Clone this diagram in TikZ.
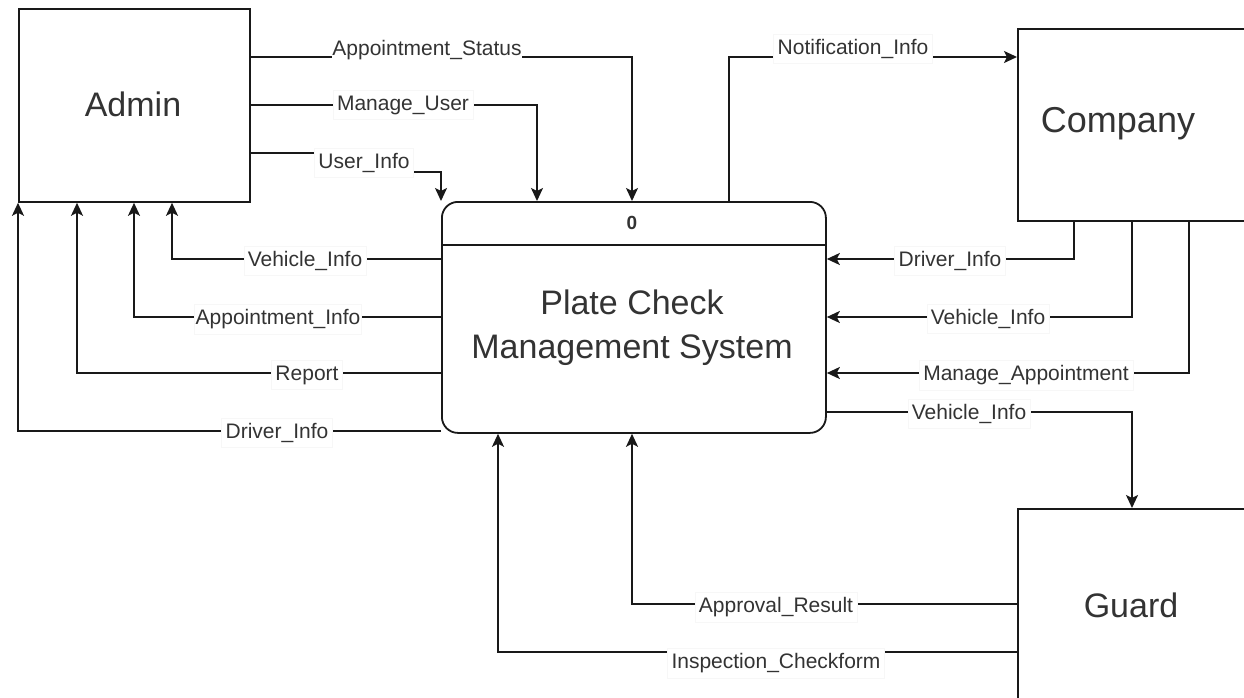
\documentclass[tikz,border=0pt]{standalone}
\usepackage{fontspec}
\setmainfont{Liberation Sans}
\usetikzlibrary{arrows.meta}
\begin{document}
\begin{tikzpicture}[x=1pt,y=-1pt,
  line width=1.8pt,
  flow/.style={draw=black!90, -{Stealth[length=13pt,width=12pt,inset=3pt]}},
  plain/.style={draw=black!90},
  entitybox/.style={draw=black!90, rectangle, inner sep=0pt},
  entitytext/.style={text=black!80, font=\fontsize{34}{40}\selectfont},
  lbl/.style={fill=white, draw=black!3, line width=0.5pt, text=black!80,
    font=\fontsize{21}{24}\selectfont, inner xsep=4pt, inner ysep=5pt},
]
\useasboundingbox (0,0) rectangle (1244,698);
\clip (0,0) rectangle (1244,698);

% external entities
\node[entitybox, minimum width=231pt, minimum height=193pt, anchor=north west] (admin) at (18,8) {};
\node[entitytext] (admintxt) at (133,104) {Admin};
\node[entitybox, minimum width=280pt, minimum height=192pt, anchor=north west] (company) at (1017,28) {};
\node[entitytext, font=\fontsize{36}{40}\selectfont] (companytxt) at (1118,124) {Company};
\node[entitybox, minimum width=280pt, minimum height=240pt, anchor=north west] (guard) at (1017,508) {};
\node[entitytext] (guardtxt) at (1131,605) {Guard};

% process
\node[draw=black!90, rectangle, rounded corners=16pt, minimum width=384pt, minimum height=231pt,
      anchor=north west] (proc) at (441,201) {};
\draw[plain] (proc.west |- 0,245) coordinate (hl) -- (proc.east |- 0,245) coordinate (hr);
\node[font=\bfseries\fontsize{19}{22}\selectfont, text=black!80] (pnum) at (632,223) {0};
\node[align=center, text=black!80, font=\fontsize{34}{44}\selectfont] (ptitle) at (632,328)
  {Plate Check\\Management System};

% Admin -> process
\draw[flow] (admin.east |- 0,57) -| (632,0 |- proc.north);
\draw[flow] (admin.east |- 0,105) -| (537,0 |- proc.north);
\draw[flow] (admin.east |- 0,153) -- (364,153) -- (364,172) -| (proc.north west);

% process -> Company
\draw[flow] (729,0 |- proc.north) |- (company.west |- 0,57);

% Company -> process
\draw[flow] (1074,0 |- company.south) |- (proc.east |- 0,259);
\draw[flow] (1132,0 |- company.south) |- (proc.east |- 0,317);
\draw[flow] (1189,0 |- company.south) |- (proc.east |- 0,373);

% process -> Guard
\draw[flow] (proc.east |- 0,412) -| (1132,0 |- guard.north);

% Guard -> process
\draw[flow] (guard.west |- 0,604) -| (632,0 |- proc.south);
\draw[flow] (guard.west |- 0,652) -| (498,0 |- proc.south);

% process -> Admin
\draw[flow] (proc.west |- 0,259) -| (172,0 |- admin.south);
\draw[flow] (proc.west |- 0,317) -| (134,0 |- admin.south);
\draw[flow] (proc.west |- 0,373) -| (77,0 |- admin.south);
\draw[flow] (proc.west |- 0,431) -| (18,0 |- admin.south);

% flow labels
\node[lbl, draw=none, inner xsep=0.5pt] (l1) at (427,50) {Appointment\_Status};
\node[lbl] (l2) at (403,105) {Manage\_User};
\node[lbl] (l3) at (364,163) {User\_Info};
\node[lbl] (l4) at (853,49) {Notification\_Info};
\node[lbl] (l5) at (950,261) {Driver\_Info};
\node[lbl] (l6) at (988,319) {Vehicle\_Info};
\node[lbl] (l7) at (1026,375) {Manage\_Appointment};
\node[lbl] (l8) at (969,414) {Vehicle\_Info};
\node[lbl] (l9) at (776,607) {Approval\_Result};
\node[lbl] (l10) at (776,663) {Inspection\_Checkform};
\node[lbl] (l11) at (305,261) {Vehicle\_Info};
\node[lbl, inner xsep=1pt] (l12) at (278,319) {Appointment\_Info};
\node[lbl] (l13) at (307,375) {Report};
\node[lbl] (l14) at (277,433) {Driver\_Info};
\end{tikzpicture}
\end{document}
